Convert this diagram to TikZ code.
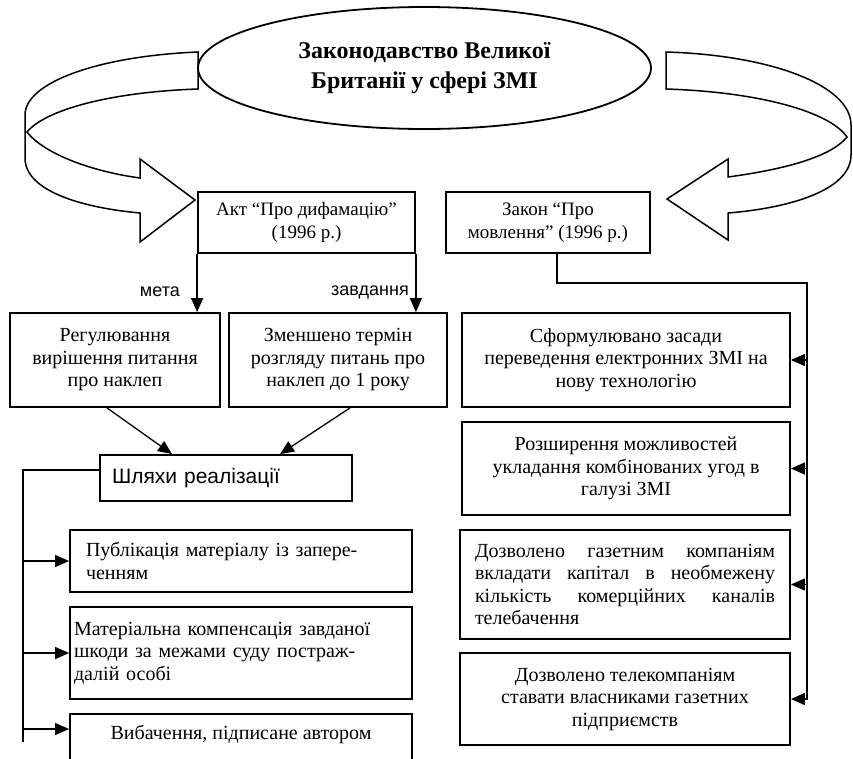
\documentclass[tikz,border=0pt]{standalone}
\usepackage{fontspec}
\setmainfont{Liberation Serif}
\newfontfamily\sansf{Liberation Sans}
\usetikzlibrary{arrows.meta,shapes.geometric}
\newcommand\bodyf{\fontsize{20}{22.5}\selectfont}
\newcommand\smallf{\fontsize{19}{23}\selectfont}
\begin{document}
\begin{tikzpicture}[x=1pt,y=-1pt,
  box/.style={draw, line width=1.8pt, inner sep=0pt, align=center, font=\bodyf},
  band/.style={draw, line width=1.5pt, line join=miter},
  conn/.style={line width=1.3pt, -{Triangle[length=14pt,width=12pt]}},
  trunk/.style={line width=1.3pt},
  lab/.style={inner sep=0pt, font=\sansf\fontsize{18}{20}\selectfont}]
\useasboundingbox (0,0) rectangle (853,758);

% title ellipse
\node[ellipse, draw, line width=1.8pt, minimum width=453pt, minimum height=122pt, inner sep=0pt,
      align=center, font=\bfseries\fontsize{24}{30}\selectfont] (ell) at (424.5,68)
      {Законодавство Великої\\Британії у сфері ЗМІ};

% curved band arrows
\draw[band] (198,52) .. controls (100,56) and (25,82) .. (25,115) -- (25,158)
  .. controls (25,192) and (85,208) .. (140,213) -- (140,242) -- (195,200) -- (140,159) -- (140,178)
  .. controls (95,172) and (45,155) .. (27,132)
  .. controls (45,110) and (110,92) .. (198,89) -- cycle;
\draw[band] (666,52) .. controls (770,55) and (851,85) .. (851,125) -- (851,155)
  .. controls (851,190) and (790,208) .. (728,213) -- (728,240) -- (667,199) -- (728,159) -- (728,177)
  .. controls (780,170) and (830,158) .. (847,137)
  .. controls (830,112) and (760,92) .. (666,89) -- cycle;

% second level
\node[box, font=\smallf, minimum width=217pt, minimum height=61pt] (akt) at (306.5,222.5)
  {Акт “Про дифамацію”\\(1996 р.)};
\node[box, font=\smallf, minimum width=204pt, minimum height=61pt] (zak) at (548,222.5)
  {Закон “Про\\мовлення” (1996 р.)};

% left column
\node[box, minimum width=210pt, minimum height=94pt] (reg) at (115,360)
  {Регулювання\\вирішення питання\\про наклеп};
\node[box, minimum width=218pt, minimum height=94pt] (zmen) at (338,360)
  {Зменшено термін\\розгляду питань про\\наклеп до 1 року};
\node[box, font=\sansf\fontsize{21}{24}\selectfont, align=left, text width=228pt, inner xsep=12pt,
      minimum height=46pt] (shl) at (226,478) {Шляхи реалізації};
\node[box, align=left, text width=310pt, minimum width=342pt, minimum height=62pt] (pub) at (241,561)
  {Публікація матеріалу із запере-\\ченням};
\node[box, align=left, text width=334pt, minimum width=342pt, minimum height=92pt] (mat) at (241,653)
  {Матеріальна компенсація завданої\\шкоди за межами суду постраж-\\далій особі};
\node[box, anchor=north, minimum width=342pt, text height=14pt, text depth=50pt, inner ysep=12pt] (vyb)
  at (241,713) {Вибачення, підписане автором};

% right column
\node[box, minimum width=328pt, minimum height=94pt] (r1) at (626,360)
  {Сформулювано засади\\переведення електронних ЗМІ на\\нову технологію};
\node[box, minimum width=328pt, minimum height=93pt] (r2) at (626,468.5)
  {Розширення можливостей\\укладання комбінованих угод в\\галузі ЗМІ};
\node[box, align=left, minimum width=330pt, minimum height=109pt] (r3) at (625,584.5)
  {\makebox[300pt][s]{Дозволено газетним компаніям}\\
   \makebox[300pt][s]{вкладати капітал в необмежену}\\
   \makebox[300pt][s]{кількість комерційних каналів}\\
   \makebox[300pt][l]{телебачення}};
\node[box, minimum width=330pt, minimum height=92pt] (r4) at (625,699)
  {Дозволено телекомпаніям\\ставати власниками газетних\\підприємств};

% labels
\node[lab, anchor=east] (meta) at (180,292) {мета};
\node[lab, anchor=east] (zavd) at (409,292) {завдання};

% connectors
\draw[conn] (akt.south west) -- (akt.south west |- reg.north);
\draw[conn] (akt.south east) -- (akt.south east |- zmen.north);
\draw[conn] ([xshift=-8pt]reg.south) -- ([xshift=-54pt]shl.north);
\draw[conn] ([xshift=12pt]zmen.south) -- ([xshift=54pt]shl.north);

\coordinate (lt) at (23,470);
\coordinate (ltb) at (23,742);
\coordinate (vybin) at (23,729);
\draw[trunk] ([yshift=8pt]shl.west) -- (lt) -- (ltb);
\draw[conn] (lt |- pub.west) -- (pub.west);
\draw[conn] (lt |- mat.west) -- (mat.west);
\draw[conn] (vybin) -- (vybin -| vyb.west);

\coordinate (tr) at (807,283);
\coordinate (trb) at (807,700);
\draw[trunk] ([xshift=9pt]zak.south) |- (tr) -- (trb);
\foreach \n in {r1,r2,r3,r4} \draw[conn] (tr |- \n.east) -- (\n.east);
\end{tikzpicture}
\end{document}
